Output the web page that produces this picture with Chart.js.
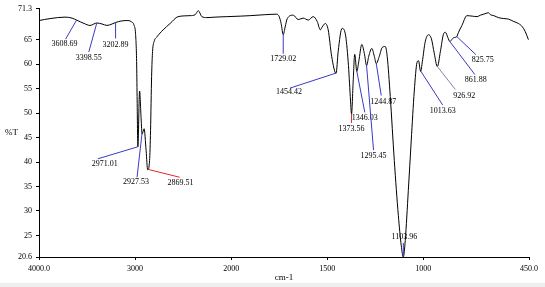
<!DOCTYPE html>
<html>
<head>
<meta charset="utf-8">
<script src="https://cdn.jsdelivr.net/npm/chart.js@4.4.1/dist/chart.umd.min.js"></script>
<style>
  html, body { margin: 0; padding: 0; background: #eeeeee; }
  #irChart { display: block; background: #ffffff; }
</style>
</head>
<body>
<canvas id="irChart" width="545" height="283"></canvas>
<script>
// spectrum (cm-1 and %T)
const wavenumbers = [
  4000, 3885, 3729, 3656, 3609, 3531, 3469, 3398, 3344, 3292, 3240, 3203, 3146, 3083, 3042, 3010,
  2995, 2984, 2979, 2971, 2953, 2937, 2927, 2906, 2885, 2869, 2849, 2839, 2828, 2818, 2802, 2771,
  2708, 2635, 2552, 2427, 2375, 2341, 2305, 2253, 2167, 2045, 1953, 1901, 1823, 1762, 1750, 1740,
  1729, 1719, 1708, 1677, 1651, 1625, 1599, 1573, 1552, 1536, 1526, 1510, 1495, 1477, 1454, 1443,
  1423, 1406, 1391, 1380, 1373.5, 1365, 1357, 1346, 1336, 1320, 1307, 1295, 1284, 1268, 1255, 1245,
  1229, 1214, 1198, 1188, 1172, 1151, 1130, 1115, 1104, 1094, 1078, 1063, 1047, 1033, 1025, 1014,
  1005, 990, 973, 958, 943, 927, 911, 896, 885, 872, 862, 852, 842, 826, 818, 799,
  773, 745, 720, 703, 685, 661, 651, 633, 609, 581, 557, 529, 505, 486, 469, 453
];
const transmittance = [
  68.9, 69.3, 69.6, 69.4, 69.0, 68.3, 67.9, 68.4, 68.2, 67.9, 68.2, 68.5, 68.8, 68.9, 68.7, 67.9,
  66.2, 60.5, 53.4, 43.1, 54.5, 48.8, 45.7, 46.8, 42.3, 38.4, 40.3, 46.4, 57.5, 62.6, 64.6, 65.6,
  67.0, 68.3, 69.7, 69.9, 70.1, 70.9, 69.7, 69.5, 69.6, 69.7, 69.8, 69.9, 70.1, 70.2, 69.7, 68.3,
  66.0, 67.6, 69.3, 70.0, 69.1, 69.4, 69.0, 69.7, 68.7, 67.0, 67.6, 68.3, 67.0, 61.6, 58.1, 62.6,
  67.3, 66.2, 60.5, 53.4, 49.8, 56.5, 62.0, 58.5, 60.5, 64.0, 62.2, 59.7, 61.6, 63.2, 61.6, 60.1,
  61.6, 63.4, 63.6, 61.6, 53.4, 40.3, 29.1, 23.0, 20.6, 24.0, 34.2, 44.3, 54.5, 60.3, 60.7, 58.5,
  60.5, 64.6, 66.0, 65.2, 62.2, 59.5, 62.6, 66.0, 66.5, 65.4, 64.6, 65.0, 65.4, 65.6, 66.4, 67.9,
  69.9, 69.8, 69.7, 70.0, 70.2, 70.5, 70.1, 69.9, 69.5, 69.3, 69.2, 68.7, 68.3, 67.7, 66.6, 65.0
];

const peakPositions = [3608.69, 3398.55, 3202.89, 2971.01, 2927.53, 2869.51, 1729.02, 1454.42, 1373.56,
  1346.03, 1295.45, 1244.87, 1103.96, 1013.63, 926.92, 861.88, 825.75];
const peakLabels = ['3608.69', '3398.55', '3202.89', '2971.01', '2927.53', '2869.51', '1729.02', '1454.42', '1373.56',
  '1346.03', '1295.45', '1244.87', '1103.96', '1013.63', '926.92', '861.88', '825.75'];

const xTickValues = [4000, 3000, 2000, 1500, 1000, 450];
const xTickLabels = ['4000.0', '3000', '2000', '1500', '1000', '450.0'];
const yTickValues = [20.6, 25, 30, 35, 40, 45, 50, 55, 60, 65, 71.3];
const yTickLabels = ['20.6', '25', '30', '35', '40', '45', '50', '55', '60', '65', '71.3'];

// label placement: [label dx, label dy, line end dx, line end dy, line colour], px from the peak
const BLUE = '#3a3ac6', RED = '#e02828', GREY = '#8484a8';
const labelLayout = [
  [-12, 24, -11, 19, BLUE], [-8, 35, -8, 29, BLUE], [0, 22, 0, 16, BLUE],
  [-33, 17, -40, 12, BLUE], [-6, 49, -5, 44, BLUE], [33, 14, 32, 8, RED],
  [0, 24, 0, 19, BLUE], [-47, 19, -46, 15, BLUE], [0, 15, 0, 9, RED],
  [8, 46, 8, 41, BLUE], [7, 91, 7, 85, BLUE], [7, 38, 5, 32, BLUE],
  [1, -20, 0, -14, BLUE], [22, 40, 22, 34, BLUE], [27, 29, 18, 23, GREY],
  [26, 38, 25, 33, BLUE], [26, 23, 19, 18, BLUE]
];

// the axis is twice as wide per cm-1 below 2000
function toAxis(wn) {
  return wn >= 2000 ? 4000 - wn : 2000 + 2 * (2000 - wn);
}

function valueAt(wn) {
  for (let i = 0; i < wavenumbers.length - 1; i++) {
    const a = wavenumbers[i], b = wavenumbers[i + 1];
    if (wn <= a && wn >= b) {
      const t = (a - wn) / (a - b);
      return transmittance[i] + t * (transmittance[i + 1] - transmittance[i]);
    }
  }
  return transmittance[transmittance.length - 1];
}

const FONT = { family: "'Liberation Serif', 'Times New Roman', serif", size: 8 };

const peakLabelPlugin = {
  id: 'peakLabels',
  afterDatasetsDraw(chart) {
    const ctx = chart.ctx;
    const xs = chart.scales.x, ys = chart.scales.y;
    ctx.save();
    ctx.font = FONT.size + 'px ' + FONT.family;
    ctx.textAlign = 'center';
    ctx.textBaseline = 'middle';
    peakPositions.forEach((wn, i) => {
      const px = xs.getPixelForValue(toAxis(wn));
      const py = ys.getPixelForValue(valueAt(wn));
      const l = labelLayout[i];
      ctx.strokeStyle = l[4];
      ctx.lineWidth = 1;
      ctx.beginPath();
      ctx.moveTo(px, py);
      ctx.lineTo(px + l[2], py + l[3]);
      ctx.stroke();
      ctx.fillStyle = '#000';
      ctx.fillText(peakLabels[i], px + l[0], py + l[1]);
    });
    // %T axis title, written level
    ctx.font = '9px ' + FONT.family;
    ctx.textAlign = 'left';
    ctx.fillText('%T', 5, (chart.chartArea.top + chart.chartArea.bottom) / 2);
    ctx.restore();
  }
};

const ctx = document.getElementById('irChart').getContext('2d');
const irChart = new Chart(ctx, {
  type: 'line',
  data: {
    datasets: [{
      data: wavenumbers.map((w, i) => ({ x: toAxis(w), y: transmittance[i] })),
      borderColor: '#000000',
      borderWidth: 1,
      pointRadius: 0,
      cubicInterpolationMode: 'monotone'
    }]
  },
  options: {
    responsive: false,
    animation: false,
    devicePixelRatio: 1,
    layout: { padding: { top: 7, right: 16, left: 0, bottom: 0 } },
    plugins: { legend: { display: false }, tooltip: { enabled: false } },
    scales: {
      x: {
        type: 'linear',
        min: 0,
        max: toAxis(450),
        afterBuildTicks: s => { s.ticks = xTickValues.map(v => ({ value: toAxis(v) })); },
        afterFit: s => { s.height = 26; },
        ticks: {
          autoSkip: false, maxRotation: 0, color: '#000', font: FONT, padding: 4,
          callback: (v, i) => xTickLabels[i]
        },
        grid: { drawOnChartArea: false, drawTicks: true, tickLength: 3, color: '#000' },
        border: { color: '#000' },
        title: { display: true, text: 'cm-1', color: '#000', font: { family: FONT.family, size: 9 }, padding: 0 }
      },
      y: {
        min: 20.6,
        max: 71.3,
        afterBuildTicks: s => { s.ticks = yTickValues.map(v => ({ value: v })); },
        afterFit: s => { s.width = 39; },
        ticks: {
          autoSkip: false, color: '#000', font: FONT, padding: 4,
          callback: (v, i) => yTickLabels[i]
        },
        grid: { drawOnChartArea: false, drawTicks: true, tickLength: 3, color: '#000' },
        border: { color: '#000' }
      }
    }
  },
  plugins: [peakLabelPlugin]
});
</script>
</body>
</html>
